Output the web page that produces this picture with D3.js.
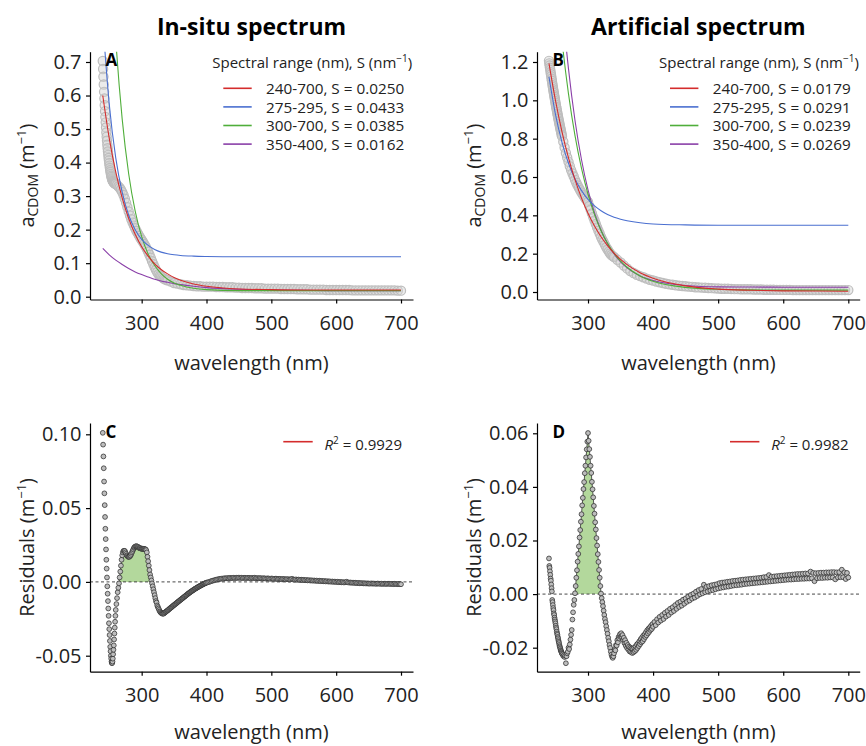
<!DOCTYPE html>
<html>
<head>
<meta charset="utf-8">
<script src="https://cdn.jsdelivr.net/npm/d3@7"></script>
<style>
  html, body { margin: 0; padding: 0; background: #fff; }
  svg { display: block; }
</style>
</head>
<body>
<div id="chart"></div>
<script>
// CDOM absorption spectra (in-situ vs artificial), exponential fits and residuals

// wavelength grids (nm)
const WL_OBS = [].concat(d3.range(240, 260.5, 0.5), d3.range(262, 341, 2), d3.range(345, 701, 5));
const WL_RES = [].concat(d3.range(240, 260.5, 0.5), d3.range(261, 401, 1), d3.range(402, 701, 2));
const WL_FIT = [240, 250, 260, 270, 280, 290, 300, 310, 320, 330, 340, 350, 360, 380, 400, 450, 500, 550, 600, 650, 700];

const X_TICKS = [300, 400, 500, 600, 700];
const Y_TICKS_A = [0, 0.1, 0.2, 0.3, 0.4, 0.5, 0.6, 0.7];
const Y_TICKS_B = [0, 0.2, 0.4, 0.6, 0.8, 1.0, 1.2];
const Y_TICKS_C = [-0.05, 0, 0.05, 0.10];
const Y_TICKS_D = [-0.02, 0, 0.02, 0.04, 0.06];

// measured a_CDOM (m^-1) on WL_OBS
const OBS_INSITU = [
  0.703, 0.679, 0.656, 0.633, 0.611, 0.591, 0.571, 0.553, 0.536, 0.520,
  0.505, 0.490, 0.477, 0.465, 0.453, 0.443, 0.433, 0.423, 0.414, 0.406,
  0.398, 0.391, 0.384, 0.377, 0.372, 0.366, 0.361, 0.357, 0.353, 0.350,
  0.347, 0.345, 0.344, 0.342, 0.341, 0.340, 0.339, 0.338, 0.338, 0.337, 0.336,
  0.333, 0.329, 0.325, 0.319, 0.312, 0.303, 0.292, 0.280, 0.267, 0.254,
  0.242, 0.231, 0.221, 0.212, 0.204, 0.196, 0.189, 0.182, 0.175, 0.169,
  0.163, 0.157, 0.150, 0.142, 0.134, 0.125, 0.116, 0.106, 0.097, 0.088,
  0.080, 0.073, 0.067, 0.062, 0.060, 0.057, 0.054, 0.052, 0.050, 0.049,
  0.045, 0.041, 0.039, 0.037, 0.035, 0.034, 0.033, 0.032, 0.031, 0.031, 0.030, 0.030,
  0.030, 0.030, 0.029, 0.029, 0.029, 0.028, 0.028, 0.028, 0.027, 0.027,
  0.026, 0.026, 0.026, 0.026, 0.025, 0.025, 0.025, 0.024, 0.024, 0.024,
  0.024, 0.024, 0.023, 0.023, 0.023, 0.023, 0.023, 0.022, 0.022, 0.022,
  0.022, 0.021, 0.021, 0.021, 0.021, 0.021, 0.020, 0.020, 0.020, 0.020,
  0.020, 0.020, 0.020, 0.020, 0.019, 0.019, 0.019, 0.019, 0.019, 0.019,
  0.019, 0.019, 0.019, 0.019, 0.019, 0.019, 0.019, 0.019, 0.018, 0.018
];
const OBS_ARTIFICIAL = [
  1.206, 1.193, 1.182, 1.170, 1.159, 1.147, 1.136, 1.125, 1.113, 1.102,
  1.090, 1.079, 1.069, 1.058, 1.048, 1.038, 1.027, 1.017, 1.007, 0.997,
  0.987, 0.977, 0.967, 0.959, 0.949, 0.940, 0.930, 0.922, 0.912, 0.904,
  0.895, 0.887, 0.878, 0.870, 0.861, 0.853, 0.845, 0.837, 0.829, 0.821, 0.813,
  0.784, 0.754, 0.725, 0.702, 0.679, 0.656, 0.636, 0.619, 0.603, 0.585,
  0.570, 0.556, 0.543, 0.531, 0.519, 0.508, 0.498, 0.488, 0.478, 0.470,
  0.449, 0.429, 0.410, 0.391, 0.373, 0.355, 0.337, 0.320, 0.304, 0.287,
  0.273, 0.260, 0.246, 0.233, 0.222, 0.211, 0.201, 0.193, 0.187, 0.182,
  0.168, 0.154, 0.138, 0.123, 0.109, 0.099, 0.090, 0.083, 0.077, 0.070, 0.064, 0.060,
  0.055, 0.051, 0.047, 0.043, 0.040, 0.038, 0.035, 0.033, 0.031, 0.030,
  0.028, 0.027, 0.025, 0.024, 0.023, 0.022, 0.021, 0.020, 0.019, 0.018,
  0.017, 0.017, 0.017, 0.016, 0.015, 0.015, 0.014, 0.014, 0.014, 0.014,
  0.013, 0.013, 0.013, 0.012, 0.012, 0.012, 0.012, 0.011, 0.011, 0.011,
  0.011, 0.011, 0.010, 0.010, 0.010, 0.010, 0.010, 0.010, 0.010, 0.010,
  0.010, 0.010, 0.010, 0.010, 0.010, 0.010, 0.010, 0.010, 0.010, 0.010
];

// fitted curves on WL_FIT, legend order: 240-700, 275-295, 300-700, 350-400
const FIT_RANGES = ["240-700", "275-295", "300-700", "350-400"];
const S_INSITU = [0.0250, 0.0433, 0.0385, 0.0162];
const S_ARTIFICIAL = [0.0179, 0.0291, 0.0239, 0.0269];
const FIT_COLORS = ["#d42c2c", "#4a6fd0", "#4fae3a", "#8a3fa8"];

const FIT_INSITU = [
  [0.600, 0.472, 0.372, 0.294, 0.233, 0.186, 0.149, 0.121, 0.098, 0.081, 0.068, 0.057, 0.049, 0.038, 0.031, 0.023, 0.021, 0.020, 0.020, 0.020, 0.020],
  [0.821, 0.574, 0.414, 0.311, 0.243, 0.200, 0.171, 0.153, 0.141, 0.133, 0.128, 0.125, 0.123, 0.121, 0.120, 0.119, 0.119, 0.119, 0.119, 0.119, 0.119],
  [1.640, 1.122, 0.769, 0.529, 0.366, 0.255, 0.179, 0.127, 0.093, 0.069, 0.052, 0.041, 0.034, 0.025, 0.021, 0.018, 0.018, 0.018, 0.018, 0.018, 0.018],
  [0.144, 0.125, 0.109, 0.096, 0.084, 0.074, 0.066, 0.059, 0.052, 0.047, 0.043, 0.039, 0.036, 0.031, 0.027, 0.022, 0.020, 0.019, 0.018, 0.018, 0.018]
];
const FIT_ARTIFICIAL = [
  [1.193, 0.999, 0.836, 0.700, 0.586, 0.490, 0.411, 0.344, 0.288, 0.242, 0.203, 0.170, 0.143, 0.101, 0.072, 0.032, 0.015, 0.009, 0.006, 0.005, 0.004],
  [1.123, 0.927, 0.781, 0.672, 0.590, 0.529, 0.483, 0.449, 0.424, 0.404, 0.390, 0.380, 0.372, 0.361, 0.355, 0.350, 0.348, 0.348, 0.348, 0.348, 0.348],
  [2.108, 1.662, 1.311, 1.034, 0.816, 0.645, 0.510, 0.404, 0.320, 0.254, 0.202, 0.161, 0.129, 0.084, 0.056, 0.024, 0.014, 0.011, 0.010, 0.010, 0.010],
  [2.578, 1.975, 1.516, 1.164, 0.895, 0.690, 0.533, 0.413, 0.322, 0.252, 0.198, 0.157, 0.126, 0.084, 0.060, 0.034, 0.027, 0.026, 0.025, 0.025, 0.025]
];

// residuals of the 240-700 fit (m^-1) on WL_RES
const RES_INSITU = [
  0.101, 0.093, 0.085, 0.077, 0.068, 0.060, 0.052, 0.044, 0.036, 0.029,
  0.022, 0.015, 0.009, 0.003, -0.003, -0.008, -0.013, -0.018, -0.023, -0.028,
  -0.032, -0.036, -0.040, -0.044, -0.047, -0.050, -0.052, -0.054, -0.055, -0.055,
  -0.054, -0.052, -0.049, -0.046, -0.043, -0.039, -0.035, -0.031, -0.027, -0.023, -0.019,
  -0.015, -0.011, -0.007, -0.004, -0.001, 0.003, 0.007, 0.011, 0.015, 0.018,
  0.020, 0.021, 0.021, 0.021, 0.020, 0.019, 0.018, 0.0175, 0.017, 0.017,
  0.017, 0.0175, 0.018, 0.019, 0.020, 0.021, 0.022, 0.023, 0.0235, 0.024,
  0.024, 0.0242, 0.024, 0.0238, 0.0235, 0.023, 0.023, 0.0228, 0.0225, 0.0225,
  0.0225, 0.0224, 0.0224, 0.0223, 0.0222, 0.0220, 0.0215, 0.020, 0.017, 0.014,
  0.011, 0.008, 0.005, 0.003, 0.001, -0.001, -0.003, -0.005, -0.007, -0.009,
  -0.011, -0.013, -0.014, -0.016, -0.017, -0.018, -0.019, -0.020, -0.0205, -0.021,
  -0.0213, -0.0215, -0.0215, -0.0215, -0.021, -0.0207, -0.0203, -0.020, -0.0197, -0.0193,
  -0.019, -0.0186, -0.0182, -0.0178, -0.0175, -0.0171, -0.0168, -0.0164, -0.016, -0.0157,
  -0.0153, -0.015, -0.0146, -0.0143, -0.0139, -0.0135, -0.0132, -0.0128, -0.0125, -0.0121,
  -0.0118, -0.0114, -0.0111, -0.0107, -0.0104, -0.010, -0.0097, -0.0093, -0.009, -0.0086,
  -0.0082, -0.0079, -0.0076, -0.0072, -0.0069, -0.0066, -0.0063, -0.006, -0.0057, -0.0054,
  -0.0051, -0.0048, -0.0045, -0.0043, -0.004, -0.0037, -0.0035, -0.0032, -0.003, -0.0027,
  -0.0025, -0.0022, -0.002, -0.0018, -0.0015, -0.0013, -0.0011, -0.0009, -0.0007, -0.0005,
  -0.0003, 0.0000, 0.0003, 0.0006, 0.0009, 0.0011, 0.0014, 0.0016, 0.0018, 0.0020,
  0.0021, 0.0023, 0.0022, 0.0025, 0.0024, 0.0026, 0.0025, 0.0027, 0.0026, 0.0027,
  0.0028, 0.0026, 0.0028, 0.0027, 0.0029, 0.0027, 0.0028, 0.0026, 0.0028, 0.0027,
  0.0026, 0.0028, 0.0027, 0.0025, 0.0027, 0.0026, 0.0028, 0.0025, 0.0026, 0.0024,
  0.0026, 0.0025, 0.0023, 0.0025, 0.0024, 0.0022, 0.0024, 0.0023, 0.0021, 0.0023,
  0.0022, 0.0020, 0.0022, 0.0021, 0.0019, 0.0021, 0.0020, 0.0018, 0.0020, 0.0019,
  0.0017, 0.0019, 0.0018, 0.0016, 0.0018, 0.0021, 0.0016, 0.0015, 0.0017, 0.0014,
  0.0016, 0.0013, 0.0015, 0.0012, 0.0014, 0.0011, 0.0013, 0.0010, 0.0012, 0.0009,
  0.0011, 0.0008, 0.0010, 0.0007, 0.0009, 0.0006, 0.0008, 0.0005, 0.0007, 0.0004,
  0.0006, 0.0003, 0.0005, 0.0002, 0.0004, 0.0001, 0.0003, 0.0000, 0.0002, -0.0001,
  0.0001, -0.0002, 0.0000, -0.0003, -0.0001, -0.0004, -0.0002, 0.0001, -0.0003, -0.0005,
  -0.0004, -0.0006, -0.0005, -0.0007, -0.0006, -0.0008, -0.0007, -0.0009, -0.0008, -0.0009,
  -0.0010, -0.0009, -0.0011, -0.0010, -0.0011, -0.0012, -0.0010, -0.0012, -0.0011, -0.0012,
  -0.0013, -0.0011, -0.0012, -0.0013, -0.0012, -0.0014, -0.0012, -0.0013, -0.0014, -0.0012,
  -0.0013, -0.0014, -0.0013, -0.0015, -0.0013, -0.0014, -0.0015, -0.0014, -0.0015, -0.0016
];
const RES_ARTIFICIAL = [
  0.0133, 0.0105, 0.0098, 0.0085, 0.0072, 0.0058, 0.0050, 0.0036, 0.0022, 0.0010,
  -0.0022, -0.0030, -0.0041, -0.0052, -0.0060, -0.0072, -0.0078, -0.0088, -0.0095, -0.0102,
  -0.0109, -0.0118, -0.0125, -0.0131, -0.0140, -0.0147, -0.0152, -0.0160, -0.0165, -0.0172,
  -0.0178, -0.0183, -0.0190, -0.0195, -0.0199, -0.0204, -0.0209, -0.0212, -0.0215, -0.0219, -0.0222,
  -0.0225, -0.0231, -0.0228, -0.0235, -0.0230, -0.0258, -0.0232, -0.0221, -0.0215, -0.0200,
  -0.0205, -0.0188, -0.0170, -0.0152, -0.0134, -0.0095, -0.0068, -0.0040, -0.0022, 0.0003,
  0.0030, 0.0061, 0.0089, 0.0121, 0.0150, 0.0178, 0.0211, 0.0239, 0.0270, 0.0298,
  0.0331, 0.0359, 0.0392, 0.0418, 0.0451, 0.0479, 0.0510, 0.0540, 0.0569, 0.0601,
  0.0572, 0.0541, 0.0512, 0.0479, 0.0452, 0.0419, 0.0391, 0.0361, 0.0329, 0.0300,
  0.0268, 0.0241, 0.0209, 0.0181, 0.0149, 0.0120, 0.0090, 0.0061, 0.0030, 0.0002,
  -0.0015, -0.0030, -0.0045, -0.0062, -0.0078, -0.0093, -0.0105, -0.0120, -0.0134, -0.0148,
  -0.0163, -0.0176, -0.0190, -0.0201, -0.0215, -0.0226, -0.0234, -0.0238, -0.0232, -0.0221,
  -0.0205, -0.0210, -0.0190, -0.0192, -0.0172, -0.0180, -0.0160, -0.0166, -0.0150, -0.0160,
  -0.0146, -0.0160, -0.0153, -0.0172, -0.0163, -0.0183, -0.0172, -0.0193, -0.0182, -0.0201,
  -0.0190, -0.0207, -0.0196, -0.0214, -0.0200, -0.0216, -0.0203, -0.0220, -0.0204, -0.0217,
  -0.0200, -0.0213, -0.0195, -0.0208, -0.0188, -0.0201, -0.0183, -0.0194, -0.0176, -0.0187,
  -0.0168, -0.0180, -0.0162, -0.0176, -0.0155, -0.0168, -0.0150, -0.0160, -0.0142, -0.0154,
  -0.0135, -0.0147, -0.0129, -0.0141, -0.0124, -0.0134, -0.0118, -0.0130, -0.0112, -0.0122,
  -0.0104, -0.0116, -0.0094, -0.0106, -0.0085, -0.0099, -0.0078, -0.0093, -0.0070, -0.0084,
  -0.0063, -0.0078, -0.0055, -0.0069, -0.0049, -0.0063, -0.0041, -0.0055, -0.0033, -0.0048,
  -0.0028, -0.0043, -0.0021, -0.0036, -0.0016, -0.0029, -0.0009, -0.0024, -0.0003, -0.0017,
  0.0002, -0.0013, 0.0009, -0.0007, 0.0015, -0.0001, 0.0019, 0.0003, 0.0035, 0.0007,
  0.0027, 0.0010, 0.0030, 0.0013, 0.0033, 0.0015, 0.0035, 0.0018, 0.0037, 0.0021,
  0.0041, 0.0023, 0.0043, 0.0025, 0.0044, 0.0027, 0.0046, 0.0028, 0.0047, 0.0030,
  0.0049, 0.0032, 0.0050, 0.0033, 0.0051, 0.0034, 0.0053, 0.0035, 0.0054, 0.0037,
  0.0055, 0.0038, 0.0056, 0.0039, 0.0057, 0.0040, 0.0058, 0.0041, 0.0059, 0.0042,
  0.0060, 0.0043, 0.0061, 0.0044, 0.0063, 0.0045, 0.0064, 0.0046, 0.0071, 0.0047,
  0.0065, 0.0048, 0.0066, 0.0049, 0.0067, 0.0050, 0.0068, 0.0051, 0.0069, 0.0052,
  0.0070, 0.0053, 0.0071, 0.0054, 0.0072, 0.0054, 0.0073, 0.0055, 0.0074, 0.0056,
  0.0075, 0.0056, 0.0075, 0.0057, 0.0076, 0.0057, 0.0077, 0.0058, 0.0077, 0.0058,
  0.0084, 0.0059, 0.0079, 0.0048, 0.0078, 0.0059, 0.0079, 0.0060, 0.0080, 0.0060,
  0.0080, 0.0061, 0.0081, 0.0061, 0.0081, 0.0062, 0.0082, 0.0062, 0.0082, 0.0055,
  0.0081, 0.0062, 0.0082, 0.0063, 0.0091, 0.0063, 0.0081, 0.0056, 0.0079, 0.0062
];

// shaded positive bump of the residuals (nm)
const BUMP_INSITU = [265, 316];
const BUMP_ARTIFICIAL = [279, 321];
const R2 = [0.9929, 0.9982];

const FONT = "'Open Sans', 'Noto Sans', sans-serif";
const W = 866, H = 746;

const svg = d3.select("#chart").append("svg")
    .attr("width", W)
    .attr("height", H)
    .style("font-family", FONT);

let clipId = 0;

function makePanel(box, xDomain, yDomain) {
    const x = d3.scaleLinear().domain(xDomain).range([box.left, box.right]);
    const y = d3.scaleLinear().domain(yDomain).range([box.bottom, box.top]);
    const id = "clip" + (clipId++);
    svg.append("clipPath").attr("id", id)
        .append("rect")
        .attr("x", box.left).attr("y", box.top)
        .attr("width", box.right - box.left)
        .attr("height", box.bottom - box.top);
    const plot = svg.append("g").attr("clip-path", `url(#${id})`);
    return { x, y, plot, box };
}

function styleAxis(g) {
    g.attr("font-family", FONT).attr("font-size", 20).attr("color", "#000");
    g.select(".domain").attr("stroke-width", 1.2);
    g.selectAll(".tick line").attr("stroke-width", 1.2);
    g.selectAll(".tick text").attr("fill", "#222");
}

function drawAxes(p, yTicks, yFmt, yTitle) {
    const b = p.box;
    svg.append("g")
        .attr("transform", `translate(0,${b.bottom})`)
        .call(d3.axisBottom(p.x).tickValues(X_TICKS).tickSize(4).tickSizeOuter(0)
            .tickPadding(12).tickFormat(d3.format("d")))
        .call(styleAxis);

    svg.append("g")
        .attr("transform", `translate(${b.left},0)`)
        .call(d3.axisLeft(p.y).tickValues(yTicks).tickSize(4).tickSizeOuter(0)
            .tickPadding(4.5).tickFormat(d => d3.format(yFmt)(d).replace("\u2212", "-")))
        .call(styleAxis);

    // x title (kept inside the page at the bottom row)
    svg.append("text")
        .attr("x", (b.left + b.right) / 2)
        .attr("y", Math.min(b.bottom + 70, H - 7))
        .attr("text-anchor", "middle")
        .attr("font-size", 20)
        .attr("fill", "#222")
        .text("wavelength (nm)");

    // y title, rotated
    const t = svg.append("text")
        .attr("transform", `translate(${b.left - 56.5},${(b.top + b.bottom) / 2}) rotate(-90)`)
        .attr("text-anchor", "middle")
        .attr("font-size", 20)
        .attr("fill", "#222");
    yTitle(t);
}

function titleCdom(t) {
    t.append("tspan").text("a");
    t.append("tspan").attr("font-size", 14).attr("dy", 4).text("CDOM");
    t.append("tspan").attr("dy", -4).text(" (m");
    t.append("tspan").attr("font-size", 13).attr("dy", -8).text("\u22121");
    t.append("tspan").attr("dy", 8).text(")");
}

function titleResid(t) {
    t.append("tspan").text("Residuals (m");
    t.append("tspan").attr("font-size", 13).attr("dy", -8).text("\u22121");
    t.append("tspan").attr("dy", 8).text(")");
}

function panelLabel(p, label) {
    svg.append("text")
        .attr("x", p.box.left + 15.5)
        .attr("y", p.box.top + 14.5)
        .attr("font-size", 17)
        .attr("font-weight", 700)
        .attr("fill", "#000")
        .text(label);
}

function spectrumPanel(p, obs, fits, slopes, title) {
    const { x, y, plot, box } = p;

    // measured spectrum, grey circles
    plot.append("g")
        .selectAll("circle")
        .data(WL_OBS.map((w, i) => [w, obs[i]]).filter(d => d[1] != null))
        .join("circle")
        .attr("cx", d => x(d[0]))
        .attr("cy", d => y(d[1]))
        .attr("r", 4.6)
        .attr("fill", "#d2d2d2")
        .attr("fill-opacity", 0.45)
        .attr("stroke", "#bdbdbd")
        .attr("stroke-width", 1.2);

    const line = d3.line()
        .curve(d3.curveMonotoneX)
        .x(d => x(d[0]))
        .y(d => y(d[1]));

    // draw from last to first so the 240-700 fit ends on top
    for (let k = fits.length - 1; k >= 0; k--) {
        plot.append("path")
            .datum(WL_FIT.map((w, i) => [w, fits[k][i]]))
            .attr("fill", "none")
            .attr("stroke", FIT_COLORS[k])
            .attr("stroke-width", 1.1)
            .attr("d", line);
    }

    // legend
    const lg = svg.append("g").attr("font-size", 15.3).attr("fill", "#222");
    const lt = lg.append("text")
        .attr("x", box.right - 200.7)
        .attr("y", box.top + 16)
        .attr("font-size", 15);
    lt.append("tspan").text("Spectral range (nm), S (nm");
    lt.append("tspan").attr("font-size", 10).attr("dy", -6).text("\u22121");
    lt.append("tspan").attr("dy", 6).text(")");

    FIT_RANGES.forEach((r, i) => {
        const cy = box.top + 36.6 + i * 18.6;
        lg.append("line")
            .attr("x1", box.right - 189.7).attr("x2", box.right - 161.3)
            .attr("y1", cy).attr("y2", cy)
            .attr("stroke", FIT_COLORS[i])
            .attr("stroke-width", 1.6);
        lg.append("text")
            .attr("x", box.right - 147)
            .attr("y", cy + 5.6)
            .text(`${r}, S = ${slopes[i].toFixed(4)}`);
    });

    // panel title
    svg.append("text")
        .attr("x", (box.left + box.right) / 2)
        .attr("y", 35)
        .attr("text-anchor", "middle")
        .attr("font-size", 23)
        .attr("font-weight", 700)
        .attr("fill", "#000")
        .text(title);
}

function residualPanel(p, res, bump, r2) {
    const { x, y, plot, box } = p;
    const pts = WL_RES.map((w, i) => [w, res[i]]).filter(d => d[1] != null);

    // shaded positive bump
    const bumpPts = pts.filter(d => d[0] >= bump[0] && d[0] <= bump[1])
        .map(d => [d[0], Math.max(0, d[1])]);
    plot.append("path")
        .datum(bumpPts)
        .attr("fill", "#b3d89c")
        .attr("d", d3.area().x(d => x(d[0])).y0(y(0)).y1(d => y(d[1])));
    plot.append("path")
        .datum(bumpPts)
        .attr("fill", "none")
        .attr("stroke", "#333")
        .attr("stroke-width", 0.8)
        .attr("d", d3.line().x(d => x(d[0])).y(d => y(d[1])));

    // zero line
    plot.append("line")
        .attr("x1", box.left).attr("x2", box.right)
        .attr("y1", y(0)).attr("y2", y(0))
        .attr("stroke", "#333")
        .attr("stroke-width", 0.9)
        .attr("stroke-dasharray", "3,2.5");

    // residual points
    plot.append("g")
        .selectAll("circle")
        .data(pts)
        .join("circle")
        .attr("cx", d => x(d[0]))
        .attr("cy", d => y(d[1]))
        .attr("r", 2.4)
        .attr("fill", "#bdbdbd")
        .attr("stroke", "#2e2e2e")
        .attr("stroke-width", 0.75);

    // legend
    const ly = box.top + 18.7;
    svg.append("line")
        .attr("x1", box.right - 129.7).attr("x2", box.right - 100.3)
        .attr("y1", ly).attr("y2", ly)
        .attr("stroke", FIT_COLORS[0])
        .attr("stroke-width", 1.6);
    const t = svg.append("text")
        .attr("x", box.right - 88.5)
        .attr("y", box.top + 27)
        .attr("font-size", 15)
        .attr("fill", "#222");
    t.append("tspan").attr("font-style", "italic").text("R");
    t.append("tspan").attr("font-size", 10).attr("dy", -6).text("2");
    t.append("tspan").attr("dy", 6).text(` = ${r2.toFixed(4)}`);
}

const BOX_A = { left: 90, right: 413, top: 51.7, bottom: 299.5 };
const BOX_B = { left: 537, right: 859.7, top: 51.7, bottom: 299.5 };
const BOX_C = { left: 90, right: 413, top: 423, bottom: 671.7 };
const BOX_D = { left: 537, right: 859.7, top: 423, bottom: 671.7 };

const pA = makePanel(BOX_A, [220.3, 718.5], [-0.00835, 0.7307]);
const pB = makePanel(BOX_B, [221.6, 717.5], [-0.0391, 1.2537]);
const pC = makePanel(BOX_C, [220.3, 718.5], [-0.06084, 0.10766]);
const pD = makePanel(BOX_D, [221.6, 717.5], [-0.02896, 0.06384]);

spectrumPanel(pA, OBS_INSITU, FIT_INSITU, S_INSITU, "In-situ spectrum");
spectrumPanel(pB, OBS_ARTIFICIAL, FIT_ARTIFICIAL, S_ARTIFICIAL, "Artificial spectrum");
residualPanel(pC, RES_INSITU, BUMP_INSITU, R2[0]);
residualPanel(pD, RES_ARTIFICIAL, BUMP_ARTIFICIAL, R2[1]);

drawAxes(pA, Y_TICKS_A, ".1f", titleCdom);
drawAxes(pB, Y_TICKS_B, ".1f", titleCdom);
drawAxes(pC, Y_TICKS_C, ".2f", titleResid);
drawAxes(pD, Y_TICKS_D, ".2f", titleResid);

panelLabel(pA, "A");
panelLabel(pB, "B");
panelLabel(pC, "C");
panelLabel(pD, "D");
</script>
</body>
</html>
